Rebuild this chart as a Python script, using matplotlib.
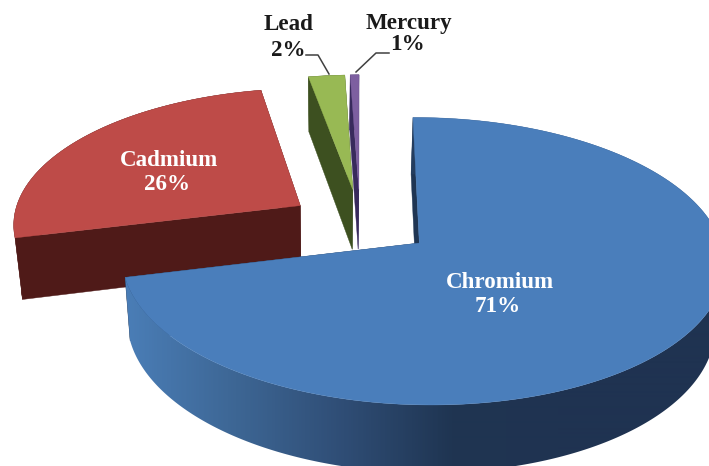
import numpy as np
import matplotlib
matplotlib.use("Agg")
import matplotlib.pyplot as plt
from matplotlib.patches import Polygon
from matplotlib.colors import LinearSegmentedColormap

categories = ["Chromium", "Cadmium", "Lead", "Mercury"]
values = [71.15, 26.0, 2.3, 0.55]
percent_labels = ["71%", "26%", "2%", "1%"]

top_colors = ["#4a7ebb", "#be4b48", "#98b954", "#7d5fa0"]
wall_colors = ["#1f3553", "#4f1a18", "#3d5020", "#382a5c"]

# projection parameters (style of the 3D view)
CX, CY, RX, RY, K, M = 360.0, 221.0, 292.0, 136.0, 0.124, -0.01
EXPLODE = 0.24
VX, T, DEPTH = 330.0, 0.024, 61.0
NUDGE = [(3.0, 1.5), (-2.0, 2.0), (0.0, 0.0), (0.0, 0.0)]

def project(U, V):
    w = 1 + K * V + M * U
    return CX + RX * U / w, CY - RY * V / w

def extrude(x, y, U, V):
    return x + T * (VX - x), y + DEPTH / (1 + 0.7 * K * V)

rim_cmap = LinearSegmentedColormap.from_list(
    "rim", ["#4a7db6", "#3d6694", "#2f4d75", "#1f3552", "#1f3351"])

fig = plt.figure(figsize=(7.09, 4.66), dpi=100)
ax = fig.add_axes([0, 0, 1, 1])

fractions = np.array(values) / sum(values)
edges = np.concatenate([[0], np.cumsum(fractions)]) * 2 * np.pi

for i in [3, 2, 1, 0]:
    base = 1 + (3 - i) * 3
    a0, a1 = edges[i], edges[i + 1]
    mid = (a0 + a1) / 2
    ox, oy = EXPLODE * np.sin(mid), EXPLODE * np.cos(mid)
    th = np.linspace(a0, a1, 400)
    U, V = ox + np.sin(th), oy + np.cos(th)
    xs, ys = project(U, V)
    ax_, ay_ = project(ox, oy)
    bx, by = extrude(xs, ys, U, V)
    bax, bay = extrude(ax_, ay_, ox, oy)
    dx, dy = NUDGE[i]
    xs, bx, ax_, bax = xs + dx, bx + dx, ax_ + dx, bax + dx
    ys, by, ay_, bay = ys + dy, by + dy, ay_ + dy, bay + dy

    # radial walls
    ax.fill([xs[0], ax_, bax, bx[0]], [ys[0], ay_, bay, by[0]],
            color=wall_colors[i], lw=0.3, zorder=base)
    ax.fill([xs[-1], ax_, bax, bx[-1]], [ys[-1], ay_, bay, by[-1]],
            color=wall_colors[i], lw=0.3, zorder=base)

    # outer rim
    rim_xy = np.c_[np.r_[xs, bx[::-1]], np.r_[ys, by[::-1]]]
    if i == 0:
        gx = np.linspace(100, 760, 660)
        grad = np.clip((gx - 128) / 432, 0, 1).reshape(1, -1)
        im = ax.imshow(grad, cmap=rim_cmap, extent=(100, 760, 480, 0), aspect="auto",
                       zorder=base + 1, interpolation="bilinear", vmin=0, vmax=1)
        im.set_clip_path(Polygon(rim_xy, transform=ax.transData))
    else:
        ax.add_patch(Polygon(rim_xy, facecolor=wall_colors[i], edgecolor=wall_colors[i],
                             lw=0.3, zorder=base + 1))

    # top face
    ax.fill(np.r_[ax_, xs], np.r_[ay_, ys], color=top_colors[i], lw=0.3, zorder=base + 2)

ax.set_xlim(0, 709)
ax.set_ylim(466, 0)
ax.axis("off")

font = dict(family="Liberation Serif", fontweight="bold", fontsize=16.6,
            ha="center", va="center", zorder=30)
ax.text(500, 283, categories[0], color="white", **font)
ax.text(498, 306, percent_labels[0], color="white", **font)
ax.text(169, 160, categories[1], color="white", **font)
ax.text(167, 184, percent_labels[1], color="white", **font)
ax.text(288, 25, categories[2], color="#1a1a1a", **font)
ax.text(288, 50, percent_labels[2], color="#1a1a1a", **font)
ax.text(409, 23, categories[3], color="#1a1a1a", **font)
ax.text(407, 45, percent_labels[3], color="#1a1a1a", **font)

ax.plot([306, 318, 329], [55, 55, 74], color="#404040", lw=1.1, zorder=29)
ax.plot([389, 376, 356], [53, 53, 72], color="#404040", lw=1.1, zorder=29)

fig.savefig("out.png", dpi=100, facecolor="white")
